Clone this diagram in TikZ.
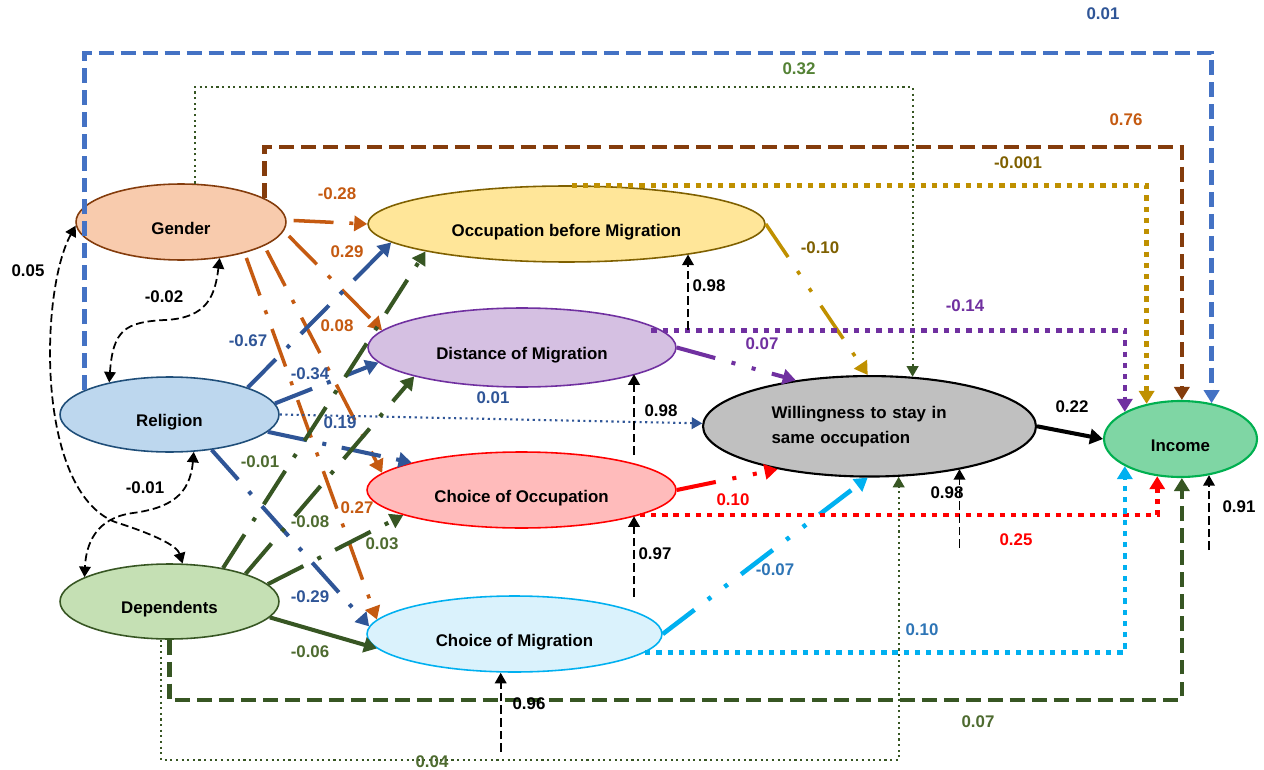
\documentclass[tikz,border=0pt]{standalone}
\usepackage{fontspec}
\setmainfont{Liberation Sans}
\usetikzlibrary{arrows.meta,shapes.geometric}
\definecolor{cOr}{HTML}{C55A11}
\definecolor{cBl}{HTML}{2F5597}
\definecolor{cBlT}{HTML}{4472C4}
\definecolor{cGr}{HTML}{375623}
\definecolor{cGrL}{HTML}{4E6B30}
\definecolor{cGrT}{HTML}{548235}
\definecolor{cPu}{HTML}{7030A0}
\definecolor{cGo}{HTML}{BF9000}
\definecolor{cGoL}{HTML}{7F6000}
\definecolor{cBr}{HTML}{843C0C}
\definecolor{cRe}{HTML}{FF0000}
\definecolor{cLb}{HTML}{00B0F0}
\definecolor{cLbL}{HTML}{2E75B6}
\definecolor{fGe}{HTML}{F8CBAD}
\definecolor{fRe}{HTML}{BDD7EE}
\definecolor{sRe}{HTML}{1F4E79}
\definecolor{fDe}{HTML}{C5E0B4}
\definecolor{fOc}{HTML}{FFE699}
\definecolor{fDi}{HTML}{D5C0E2}
\definecolor{fCO}{HTML}{FFBBBB}
\definecolor{fCM}{HTML}{DAF2FC}
\definecolor{fW}{HTML}{C0C0C0}
\definecolor{fIn}{HTML}{7FD6A4}
\definecolor{sIn}{HTML}{00B050}
\begin{document}
\begin{tikzpicture}[x=0.02cm,y=-0.02cm,
  font=\fontsize{9.6}{11.5}\selectfont\bfseries,
  ell/.style={ellipse, draw, line width=0.9pt, inner sep=0pt, text height=13.7pt, text depth=0pt},
  lbl/.style={inner sep=0pt},
  ar/.style={-{Triangle[length=7.4pt,width=8.6pt]}},
  sar/.style={-{Triangle[length=6pt,width=6.6pt]}},
  thk/.style={line width=2.3pt},
  dd/.style={dash pattern=on 22.7pt off 9pt on 2.3pt off 9pt},
  ddd/.style={dash pattern=on 22.7pt off 9.6pt on 2.3pt off 9.6pt on 2.3pt off 9.6pt},
  lds/.style={line width=2.6pt, dash pattern=on 8.5pt off 4pt},
  dts/.style={line width=2.6pt, dash pattern=on 3pt off 3.4pt},
  tdt/.style={line width=1.2pt, dash pattern=on 1.2pt off 2pt},
  err/.style={line width=1pt, dash pattern=on 5pt off 2.2pt, sar},
  cov/.style={line width=1pt, dash pattern=on 4.5pt off 2.2pt, {Triangle[length=6pt,width=6.6pt]}-{Triangle[length=6pt,width=6.6pt]}}
]
\useasboundingbox[fill=white] (0,0) rectangle (1264,770);

% nodes
\node[ell, fill=fGe, draw=cBr, minimum width=4.2cm, minimum height=1.52cm] (G) at (181,222) {Gender};
\node[ell, fill=fRe, draw=sRe, minimum width=4.38cm, minimum height=1.5cm] (R) at (169.5,414.5) {Religion};
\node[ell, fill=fDe, draw=cGr, minimum width=4.38cm, minimum height=1.5cm] (D) at (169.5,601.5) {Dependents};
\node[ell, fill=fOc, draw=cGoL, minimum width=7.94cm, minimum height=1.52cm] (O) at (566.5,224) {Occupation before Migration};
\node[ell, fill=fDi, draw=cPu, minimum width=6.16cm, minimum height=1.58cm] (Di) at (522,347.5) {Distance of Migration};
\node[ell, fill=fCO, draw=cRe, minimum width=6.18cm, minimum height=1.52cm] (CO) at (521.5,490) {Choice of Occupation};
\node[ell, fill=fCM, draw=cLb, minimum width=5.9cm, minimum height=1.52cm] (CM) at (514.5,634) {Choice of Migration};
\node[ellipse, draw=black, line width=1.2pt, fill=fW, inner sep=0pt, minimum width=6.66cm, minimum height=2.01cm,
      align=left, text width=3.92cm, font=\fontsize{9.6}{14.2}\selectfont\bfseries] (W) at (869.5,426.3) {Willingness to stay in\\same occupation};
\node[ell, fill=fIn, draw=sIn, line width=1.2pt, minimum width=3.06cm, minimum height=1.52cm] (I) at (1180.5,439) {Income};

% helper levels
\coordinate (ytop) at (0,53);
\coordinate (ybr) at (0,147);
\coordinate (ygr) at (0,87);
\coordinate (ydg) at (0,700);
\coordinate (ydt) at (0,760);

% Gender paths
\draw[cOr, line width=2pt, dd, ar, shorten <=4pt] (G.1) -- (O.180);
\draw[cOr, line width=2pt, dd, ar, shorten <=4pt] (G.-5) -- (Di.173);
\draw[cOr, line width=2pt, dd, ar, shorten <=3pt] (G.-16) -- (CO.173.7);
\draw[cOr, line width=2pt, dd, ar, shorten <=3pt] (G.-26) -- (CM.174.4);

% Religion paths
\draw[cBl, thk, dd, ar] (R.19.5) -- (O.186.6);
\draw[cBl, thk, dd, ar] (R.6) -- (Di.186.3);
\draw[cBl, tdt, sar] (R.0) -- (W.179);
\draw[cBl, thk, dd, ar] (R.-10) -- (CO.166.7);
\draw[cBl, thk, dd, ar] (R.-40) -- (CM.177.7);

% Dependents paths
\draw[cGr, thk, dd, ar] (D.32.5) -- (O.191.2);
\draw[cGr, thk, dd, ar] (D.20.3) -- (Di.195.8);
\draw[cGr, thk, dd, ar] (D.10.7) -- (CO.192.2);
\draw[cGr, thk, ar] (D.-9.4) -- (CM.186.9);

% mediators to willingness
\draw[cGo, line width=2pt, ddd, ar] (O.0) -- (W.92);
\draw[cPu, thk, ddd, ar] (Di.0) -- (W.148.6);
\draw[cRe, thk, ddd, ar] (CO.0) -- (W.205.2);
\draw[cLb, line width=2.6pt, ddd, ar] (CM.0) -- (W.268);
\draw[black, line width=2.3pt, ar] (W.0) -- (I.180);

% rectilinear paths
\draw[cBlT, lds, ar] (R.164) -- (R.164 |- ytop) -| (I.49);
\draw[cBr, lds, ar] (G.16) -- (G.16 |- ybr) -| (I.88);
\draw[cGr, tdt, sar] (G.70) -- (G.70 |- ygr) -| (W.49);
\draw[cGo, dts, ar] (O.82) -| (I.134);
\draw[cPu, dts, ar, shorten <=-6pt] (Di.7) -| (I.154);
\draw[cRe, dts, ar] (CO.-12.7) -| (I.238);
\draw[cLb, dts, ar] (CM.-8) -| (I.206);
\draw[cGr, lds, ar] (D.270) -- (D.270 |- ydg) -| (I.-88);
\draw[cGr, tdt, sar] (D.258) -- (D.258 |- ydt) -| (W.-60);

% error terms
\coordinate (e1) at (688,330);
\coordinate (e2) at (634,455);
\coordinate (e3) at (634,597);
\coordinate (e4) at (500.7,752);
\coordinate (e5) at (959.5,548);
\coordinate (e6) at (1209,550);
\draw[err] (e1) -- (e1 |- O.-14);
\draw[err] (e2) -- (e2 |- Di.-13.6);
\draw[err] (e3) -- (e3 |- CO.-13);
\draw[err] (e4) -- (e4 |- CM.265);
\draw[err] (e5) -- (e5 |- W.-25);
\draw[err] (e6) -- (e6 |- I.-51);

% covariances
\draw[cov] (R.152) .. controls (113,330) and (125,322) .. (165,320) .. controls (208,318) and (215,295) .. (G.-43);
\draw[cov] (G.182) .. controls (40,290) and (35,490) .. (115,522) .. controls (150,533) and (177,545) .. (D.71);
\draw[cov] (R.-57) .. controls (190,495) and (170,508) .. (133,513) .. controls (95,518) and (86,545) .. (D.164);

% labels
\node[lbl, text=cOr] (lG1) at (337,194) {-0.28};
\node[lbl, text=cOr] (lG2) at (347,252) {0.29};
\node[lbl, text=cOr] (lG3) at (337,326) {0.08};
\node[lbl, text=cOr] (lG4) at (357,508) {0.27};
\node[lbl, text=cBl] (lR1) at (248,341) {-0.67};
\node[lbl, text=cBl] (lR2) at (310,374) {-0.34};
\node[lbl, text=cBl] (lR3) at (340,423) {0.19};
\node[lbl, text=cBl] (lR4) at (493,398) {0.01};
\node[lbl, text=cBl] (lR5) at (310,597) {-0.29};
\node[lbl, text=cGrL] (lD1) at (260,462) {-0.01};
\node[lbl, text=cGrL] (lD2) at (310,522) {-0.08};
\node[lbl, text=cGrL] (lD3) at (382,544) {0.03};
\node[lbl, text=cGrL] (lD4) at (310,652) {-0.06};
\node[lbl, text=cGrL] (lD5) at (978,722) {0.07};
\node[lbl, text=cGrL] (lD6) at (432,762) {0.04};
\node[lbl, text=cGrT] (lG5) at (799,69) {0.32};
\node[lbl, text=cOr] (lG6) at (1126,120) {0.76};
\node[lbl, text=cBl] (lR6) at (1103,14) {0.01};
\node[lbl, text=cGoL] (lO1) at (1018,163) {-0.001};
\node[lbl, text=cGoL] (lO2) at (820,248) {-0.10};
\node[lbl, text=cPu] (lDi1) at (965,306) {-0.14};
\node[lbl, text=cPu] (lDi2) at (762,344) {0.07};
\node[lbl, text=cRe] (lCO1) at (733,500) {0.10};
\node[lbl, text=cRe] (lCO2) at (1016,540) {0.25};
\node[lbl, text=cLbL] (lCM1) at (775,570) {-0.07};
\node[lbl, text=cLbL] (lCM2) at (922,630) {0.10};
\node[lbl] (lW) at (1072,407) {0.22};
\node[lbl] (le1) at (709,286) {0.98};
\node[lbl] (le2) at (661,411) {0.98};
\node[lbl] (le3) at (655,554) {0.97};
\node[lbl] (le4) at (529,704) {0.96};
\node[lbl] (le5) at (947,493) {0.98};
\node[lbl] (le6) at (1239,507) {0.91};
\node[lbl] (lc1) at (164,297) {-0.02};
\node[lbl] (lc2) at (28,271) {0.05};
\node[lbl] (lc3) at (145,488) {-0.01};
\end{tikzpicture}
\end{document}
